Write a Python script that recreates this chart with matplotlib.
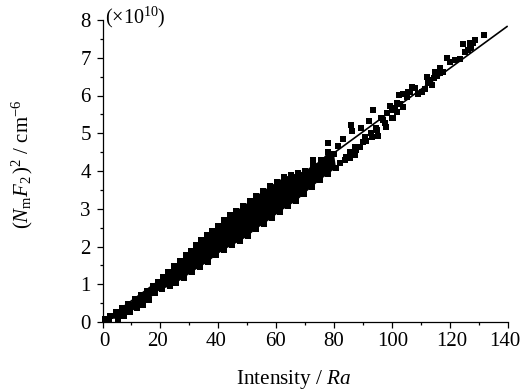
import matplotlib
matplotlib.use("Agg")
import matplotlib.pyplot as plt
from matplotlib.ticker import MultipleLocator
from matplotlib.transforms import ScaledTranslation

upper_x = [0.9,2.6,4.7,6.7,8.8,11.2,13.3,15.4,17.4,19.2,20.9,22.6,24.7,26.8,28.9,30.6,32.3,34,36.1,37.8,39.9,42,44.1,46.1,48.5,51,53,55.5,57.9,60.3,62.7,65.1,67.6,70,72.7,75.5,77.9,80]
upper_y = [0.07,0.16,0.26,0.37,0.48,0.61,0.72,0.82,0.95,1.06,1.19,1.32,1.48,1.62,1.77,1.88,2.04,2.17,2.30,2.41,2.54,2.70,2.83,2.94,3.07,3.21,3.34,3.47,3.60,3.71,3.84,3.89,3.95,4.0,4.16,4.28,4.50,4.45]
lower_x = [2.2,5.4,7.4,9.5,11.9,14,16.1,18.1,20.6,23.3,25.4,28.2,30.9,33.7,36.5,39.2,42,44.7,47.5,50.3,53,55.8,58.6,61.3,64.1,66.9,69.6,72.4,75.2,77.9,80.7]
lower_y = [0.08,0.09,0.16,0.26,0.37,0.45,0.58,0.77,0.87,0.95,1.03,1.17,1.32,1.46,1.59,1.77,1.91,2.03,2.14,2.28,2.46,2.60,2.76,2.92,3.07,3.20,3.39,3.58,3.76,3.92,4.08]
sparse_x = [72.7,72.7,77.9,81.4,83.1,85.9,86.2,89.3,92.1,93.5,83.8,85.5,87.3,90,87.3,93.1,94.9,97.6,100.4,98.3,99.3,103.8,101.8,102.5,103.8,105.2,106.9,109,111.4,112.5,113.9,112.1,114.9,116.6,116.6,119,121.8,123.5,124.5,127,126.3,128.7,131.8,100,96.2,90.7,127,128,114.5,105.6,101,
            82.1,84.1,85.5,87.6,89,91,92.8,94.5,95.2,96.9,98,100,101.8,102.8,106.3,108,110.4,113.2,115.6,117.7,120,125.3,127.3]
sparse_y = [4.29,4.16,4.74,4.66,4.85,5.22,5.06,5.14,5.32,5.62,4.29,4.50,4.64,4.77,4.42,4.90,5.09,5.27,5.40,5.54,5.72,5.70,5.80,6.01,6.04,5.96,6.23,6.04,6.17,6.33,6.28,6.49,6.62,6.73,6.60,6.99,6.94,6.97,7.36,7.39,7.21,7.47,7.60,5.62,5.40,4.90,7.26,7.39,6.46,6.09,5.67,
            4.21,4.37,4.34,4.56,4.64,4.79,5.01,5.14,4.93,5.35,5.17,5.40,5.56,5.77,6.09,6.20,6.09,6.41,6.52,6.62,6.89,7.15,7.28]
fit_x = [0, 140]
fit_y = [0, 7.84]
x_ticks = [0,20,40,60,80,100,120,140]
y_ticks = [0,1,2,3,4,5,6,7,8]

plt.rcParams['font.family'] = ['Liberation Serif', 'DejaVu Serif']
plt.rcParams['mathtext.fontset'] = 'custom'
plt.rcParams['mathtext.rm'] = 'Liberation Serif'
plt.rcParams['mathtext.it'] = 'Liberation Serif:italic'
plt.rcParams['mathtext.bf'] = 'Liberation Serif:bold'

W, H = 521, 390
fig = plt.figure(figsize=(W/100, H/100), dpi=100, facecolor='white')
ax = fig.add_axes([102.5/W, 1-322/H, 405.2/W, 302/H])

# dense core of the cloud: the outline read from its upper and lower edges
ax.fill(upper_x + lower_x[::-1], upper_y + lower_y[::-1], color='black', lw=0, zorder=2)
for xs, ys in ((upper_x, upper_y), (lower_x, lower_y), (sparse_x, sparse_y)):
    ax.scatter(xs, ys, marker='s', s=25, color='black', linewidths=0, zorder=3, clip_on=False)
ax.plot(fit_x, fit_y, color='black', lw=1.2, zorder=4, solid_capstyle='butt')

ax.set_xlim(0, 140)
ax.set_ylim(0, 8)
ax.set_xticks(x_ticks)
ax.set_yticks(y_ticks)
ax.xaxis.set_minor_locator(MultipleLocator(10))
ax.yaxis.set_minor_locator(MultipleLocator(0.5))
ax.spines['top'].set_visible(False)
ax.spines['right'].set_visible(False)
for s in ('left', 'bottom'):
    ax.spines[s].set_linewidth(0.9)
ax.tick_params(which='major', length=4, width=0.9, labelsize=15, pad=4.5)
ax.tick_params(axis='x', which='major', pad=3.5)
ax.tick_params(which='minor', length=2.4, width=0.9)
label_nudge_px = [1.5, -3, -2.3, -1, 0, 1, 1.8, -2.7]
for lab, nudge in zip(ax.get_xticklabels(), label_nudge_px):
    lab.set_transform(lab.get_transform() + ScaledTranslation(nudge/100, 0, fig.dpi_scale_trans))

fig.text(105/W, 1-23/H, r'($\times$10$^{10}$)', fontsize=14.5, ha='left', va='baseline')
fig.text(294/W, 1-384/H, r'Intensity / $\mathit{Ra}$', fontsize=15.3, ha='center', va='baseline')
fig.text(22/W, 1-164/H, r'$(N_{\mathrm{m}}F_{2}\,)^{2}$ / cm$^{-6}$', fontsize=15, rotation=90, ha='center', va='center')

fig.savefig('out.png', dpi=100, facecolor='white')
